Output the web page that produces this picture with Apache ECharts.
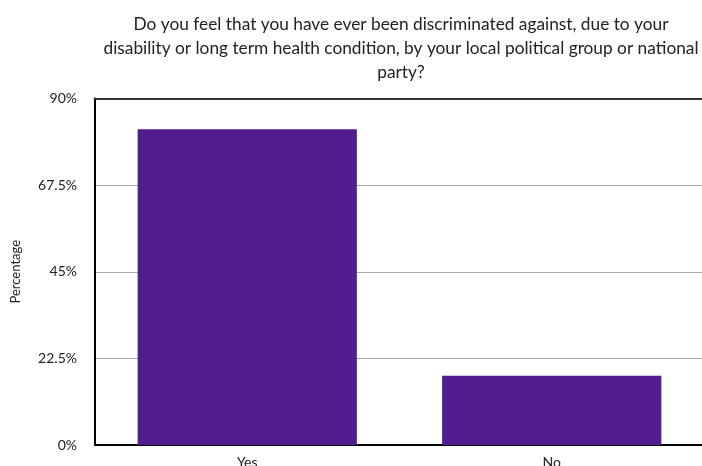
<!DOCTYPE html>
<html><head><meta charset="utf-8">
<script src="https://cdn.jsdelivr.net/npm/echarts@6/dist/echarts.min.js"></script>
<style>html,body{margin:0;padding:0;background:#fff}#c{width:702px;height:466px}</style>
</head><body><div id="c"></div>
<script>
var categories = ['Yes', 'No'];
var values = [82, 18];
var yTicks = [0, 22.5, 45, 67.5, 90];
var titleText = 'Do you feel that you have ever been discriminated against, due to your\ndisability or long term health condition, by your local political group or national\nparty?';

var chart = echarts.init(document.getElementById('c'));
chart.setOption({
  animation: false,
  title: {
    text: titleText,
    left: 396, top: 7, textAlign: 'center',
    textStyle: { fontFamily: 'Lato', fontSize: 17.3, fontWeight: 'normal', color: '#222', lineHeight: 24 }
  },
  grid: { left: 95, right: -2, top: 98.5, bottom: 21, containLabel: false, outerBoundsMode: 'none' },
  xAxis: {
    type: 'category', data: categories,
    axisLine: { show: true, lineStyle: { color: '#000', width: 2 } },
    axisTick: { show: false },
    axisLabel: { fontFamily: 'Lato', fontSize: 14, color: '#222', margin: 10 }
  },
  yAxis: {
    type: 'value', min: yTicks[0], max: yTicks[yTicks.length - 1], interval: yTicks[1] - yTicks[0],
    name: 'Percentage', nameLocation: 'middle', nameGap: 73,
    nameTextStyle: { fontFamily: 'Lato', fontSize: 13, color: '#222' },
    axisLine: { show: true, lineStyle: { color: '#000', width: 2 } },
    axisTick: { show: false },
    splitLine: { show: true, lineStyle: { color: '#aaa', width: 1 } },
    axisLabel: { fontFamily: 'Lato', fontSize: 14, color: '#222', margin: 18,
                 formatter: function (v) { return v + '%'; } }
  },
  series: [{
    type: 'bar', data: values, barWidth: '72%',
    itemStyle: { color: '#521d8f' }
  }, {
    type: 'line', data: [], markLine: {
      silent: true, symbol: 'none', label: { show: false },
      lineStyle: { color: '#333', width: 2, type: 'solid' },
      data: [{ yAxis: yTicks[yTicks.length - 1] }]
    }
  }]
});
</script></body></html>
